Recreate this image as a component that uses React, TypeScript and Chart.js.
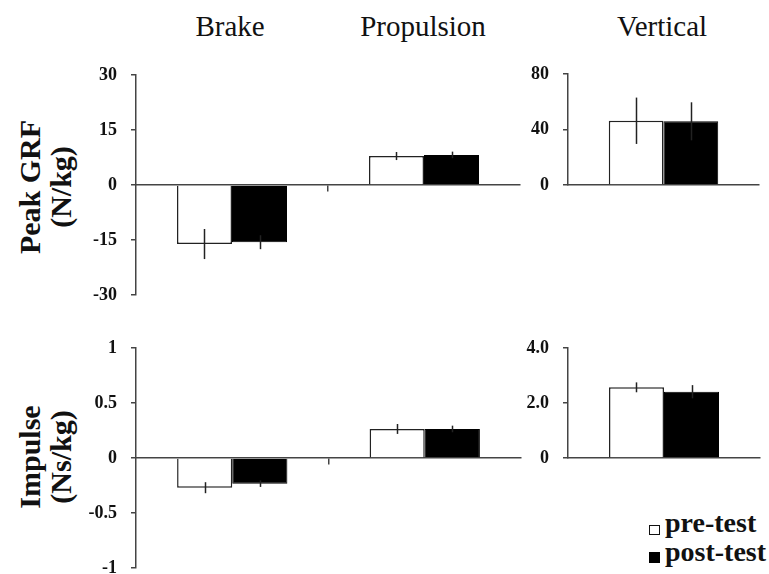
import React, { useEffect, useRef } from "react";
import { Chart, registerables } from "chart.js";
Chart.register(...registerables);

// ---------- data ----------
const phases = ["Brake", "Propulsion"];
const verticalCat = ["Vertical"];
const seriesNames = ["pre-test", "post-test"];

const grfPre = [-16.1, 7.9];
const grfPreSD = [4.1, 1.1];
const grfPost = [-15.6, 8.2];
const grfPostSD = [1.9, 0.9];

const grfVertPre = [46.3];
const grfVertPreSD = [16.7];
const grfVertPost = [45.9];
const grfVertPostSD = [13.7];

const impPre = [-0.27, 0.264];
const impPreSD = [0.05, 0.045];
const impPost = [-0.233, 0.264];
const impPostSD = [0.03, 0.03];

const impVertPre = [2.57];
const impVertPreSD = [0.18];
const impVertPost = [2.41];
const impVertPostSD = [0.24];

const grfTicks = [-30, -15, 0, 15, 30];
const grfTickLabels = ["-30", "-15", "0", "15", "30"];
const grfVertTicks = [0, 40, 80];
const grfVertTickLabels = ["0", "40", "80"];
const impTicks = [-1, -0.5, 0, 0.5, 1];
const impTickLabels = ["-1", "-0.5", "0", "0.5", "1"];
const impVertTicks = [0, 2, 4];
const impVertTickLabels = ["0", "2.0", "4.0"];

const FONT = '"Liberation Serif", "Times New Roman", serif';
const AXIS = "#444";

const errorBarPlugin = {
  id: "errorBars",
  afterDatasetsDraw(chart: any) {
    const ctx = chart.ctx;
    const yScale = chart.scales.y;
    chart.data.datasets.forEach((ds: any, i: number) => {
      const meta = chart.getDatasetMeta(i);
      meta.data.forEach((bar: any, j: number) => {
        const v = ds.data[j];
        const e = ds.errors[j];
        const y1 = yScale.getPixelForValue(v + e);
        const y2 = yScale.getPixelForValue(v - e);
        ctx.save();
        ctx.strokeStyle = "#222";
        ctx.lineWidth = 1.5;
        ctx.beginPath();
        ctx.moveTo(Math.round(bar.x) + 0.5, y1);
        ctx.lineTo(Math.round(bar.x) + 0.5, y2);
        ctx.stroke();
        ctx.restore();
      });
    });
  },
};

type PanelProps = {
  left: number;
  top: number;
  width: number;
  height: number;
  axisW: number;
  pad: { top: number; right: number; bottom: number; left: number };
  labels: string[];
  pre: number[];
  preSD: number[];
  post: number[];
  postSD: number[];
  ticks: number[];
  tickLabels: string[];
  midTick: boolean;
};

function Panel(p: PanelProps) {
  const ref = useRef<HTMLCanvasElement | null>(null);
  useEffect(() => {
    if (!ref.current) return;
    const chart = new Chart(ref.current, {
      type: "bar",
      data: {
        labels: p.labels,
        datasets: [
          {
            label: seriesNames[0],
            data: p.pre,
            errors: p.preSD,
            backgroundColor: "#ffffff",
            borderColor: "#222",
            borderWidth: 1.5,
            barPercentage: 1,
            categoryPercentage: 0.573,
          } as any,
          {
            label: seriesNames[1],
            data: p.post,
            errors: p.postSD,
            backgroundColor: "#000000",
            borderColor: "#000000",
            borderWidth: 1,
            barPercentage: 1,
            categoryPercentage: 0.573,
          } as any,
        ],
      },
      options: {
        animation: false,
        responsive: false,
        maintainAspectRatio: false,
        layout: { padding: p.pad },
        plugins: { legend: { display: false }, tooltip: { enabled: false } },
        scales: {
          x: {
            type: "category",
            position: { y: 0 } as any,
            offset: true,
            ticks: { display: false },
            grid: {
              offset: true,
              drawOnChartArea: false,
              drawTicks: true,
              tickLength: 6,
              lineWidth: 1.5,
              color: (c: any) => (p.midTick && c.index === 1 ? AXIS : "rgba(0,0,0,0)"),
            },
            border: { display: true, color: AXIS, width: 1.5 },
          },
          y: {
            type: "linear",
            min: p.ticks[0],
            max: p.ticks[p.ticks.length - 1],
            afterBuildTicks: (s: any) => {
              s.ticks = p.ticks.map((v) => ({ value: v }));
            },
            afterFit: (s: any) => {
              s.width = p.axisW;
              s.paddingTop = 0;
              s.paddingBottom = 0;
            },
            ticks: {
              padding: 14,
              color: "#111",
              font: { family: FONT, size: 18, weight: "bold" },
              callback: (v: any) => p.tickLabels[p.ticks.indexOf(Number(v))],
            },
            grid: {
              drawOnChartArea: false,
              drawTicks: true,
              tickLength: 5,
              color: AXIS,
              lineWidth: 1.5,
            },
            border: { display: true, color: AXIS, width: 1.5 },
          },
        },
      },
      plugins: [errorBarPlugin],
    } as any);
    return () => chart.destroy();
  }, []);
  return (
    <canvas
      ref={ref}
      width={p.width}
      height={p.height}
      style={{ position: "absolute", left: p.left, top: p.top, width: p.width, height: p.height, display: "block" }}
    />
  );
}

const titleStyle = (cx: number): React.CSSProperties => ({
  position: "absolute",
  left: cx - 100,
  top: 12,
  width: 200,
  textAlign: "center",
  fontFamily: FONT,
  fontSize: 29,
  lineHeight: 1,
  color: "#111",
  whiteSpace: "nowrap",
});

const rowLabelStyle = (cx: number, cy: number): React.CSSProperties => ({
  position: "absolute",
  left: cx - 100,
  top: cy - 31,
  width: 200,
  height: 62,
  textAlign: "center",
  fontFamily: FONT,
  fontSize: 30,
  fontWeight: "bold",
  lineHeight: "31px",
  color: "#111",
  transform: "rotate(-90deg)",
  transformOrigin: "50% 50%",
  whiteSpace: "nowrap",
});

const legendText = (top: number): React.CSSProperties => ({
  position: "absolute",
  left: 665,
  top,
  fontFamily: FONT,
  fontSize: 28,
  fontWeight: "bold",
  lineHeight: 1,
  color: "#111",
  whiteSpace: "nowrap",
});

export default function App() {
  return (
    <div
      style={{
        position: "absolute",
        left: 0,
        top: 0,
        width: 769,
        height: 574,
        overflow: "hidden",
        background: "#fff",
      }}
    >
      <div style={titleStyle(230)}>{phases[0]}</div>
      <div style={titleStyle(423)}>{phases[1]}</div>
      <div style={titleStyle(662)}>{verticalCat[0]}</div>

      <div style={rowLabelStyle(45, 187)}>
        Peak GRF
        <br />
        (N/kg)
      </div>
      <div style={rowLabelStyle(45, 457)}>
        Impulse
        <br />
        (Ns/kg)
      </div>

      <Panel
        left={40}
        top={60}
        width={490}
        height={250}
        axisW={96}
        pad={{ top: 15, right: 10, bottom: 15, left: 0 }}
        labels={phases}
        pre={grfPre}
        preSD={grfPreSD}
        post={grfPost}
        postSD={grfPostSD}
        ticks={grfTicks}
        tickLabels={grfTickLabels}
        midTick={true}
      />
      <Panel
        left={480}
        top={60}
        width={289}
        height={140}
        axisW={88}
        pad={{ top: 14, right: 10, bottom: 15, left: 0 }}
        labels={verticalCat}
        pre={grfVertPre}
        preSD={grfVertPreSD}
        post={grfVertPost}
        postSD={grfVertPostSD}
        ticks={grfVertTicks}
        tickLabels={grfVertTickLabels}
        midTick={false}
      />
      <Panel
        left={40}
        top={333}
        width={490}
        height={260}
        axisW={96}
        pad={{ top: 15, right: 9, bottom: 25, left: 0 }}
        labels={phases}
        pre={impPre}
        preSD={impPreSD}
        post={impPost}
        postSD={impPostSD}
        ticks={impTicks}
        tickLabels={impTickLabels}
        midTick={true}
      />
      <Panel
        left={480}
        top={333}
        width={289}
        height={140}
        axisW={88}
        pad={{ top: 15, right: 9, bottom: 15, left: 0 }}
        labels={verticalCat}
        pre={impVertPre}
        preSD={impVertPreSD}
        post={impVertPost}
        postSD={impVertPostSD}
        ticks={impVertTicks}
        tickLabels={impVertTickLabels}
        midTick={false}
      />

      {/* legend */}
      <div
        style={{
          position: "absolute",
          left: 649,
          top: 525,
          width: 9,
          height: 8,
          border: "1.5px solid #111",
          background: "#fff",
        }}
      />
      <div style={legendText(509)}>{seriesNames[0]}</div>
      <div
        style={{
          position: "absolute",
          left: 649,
          top: 552,
          width: 11,
          height: 11,
          background: "#000",
        }}
      />
      <div style={legendText(538)}>{seriesNames[1]}</div>
    </div>
  );
}
